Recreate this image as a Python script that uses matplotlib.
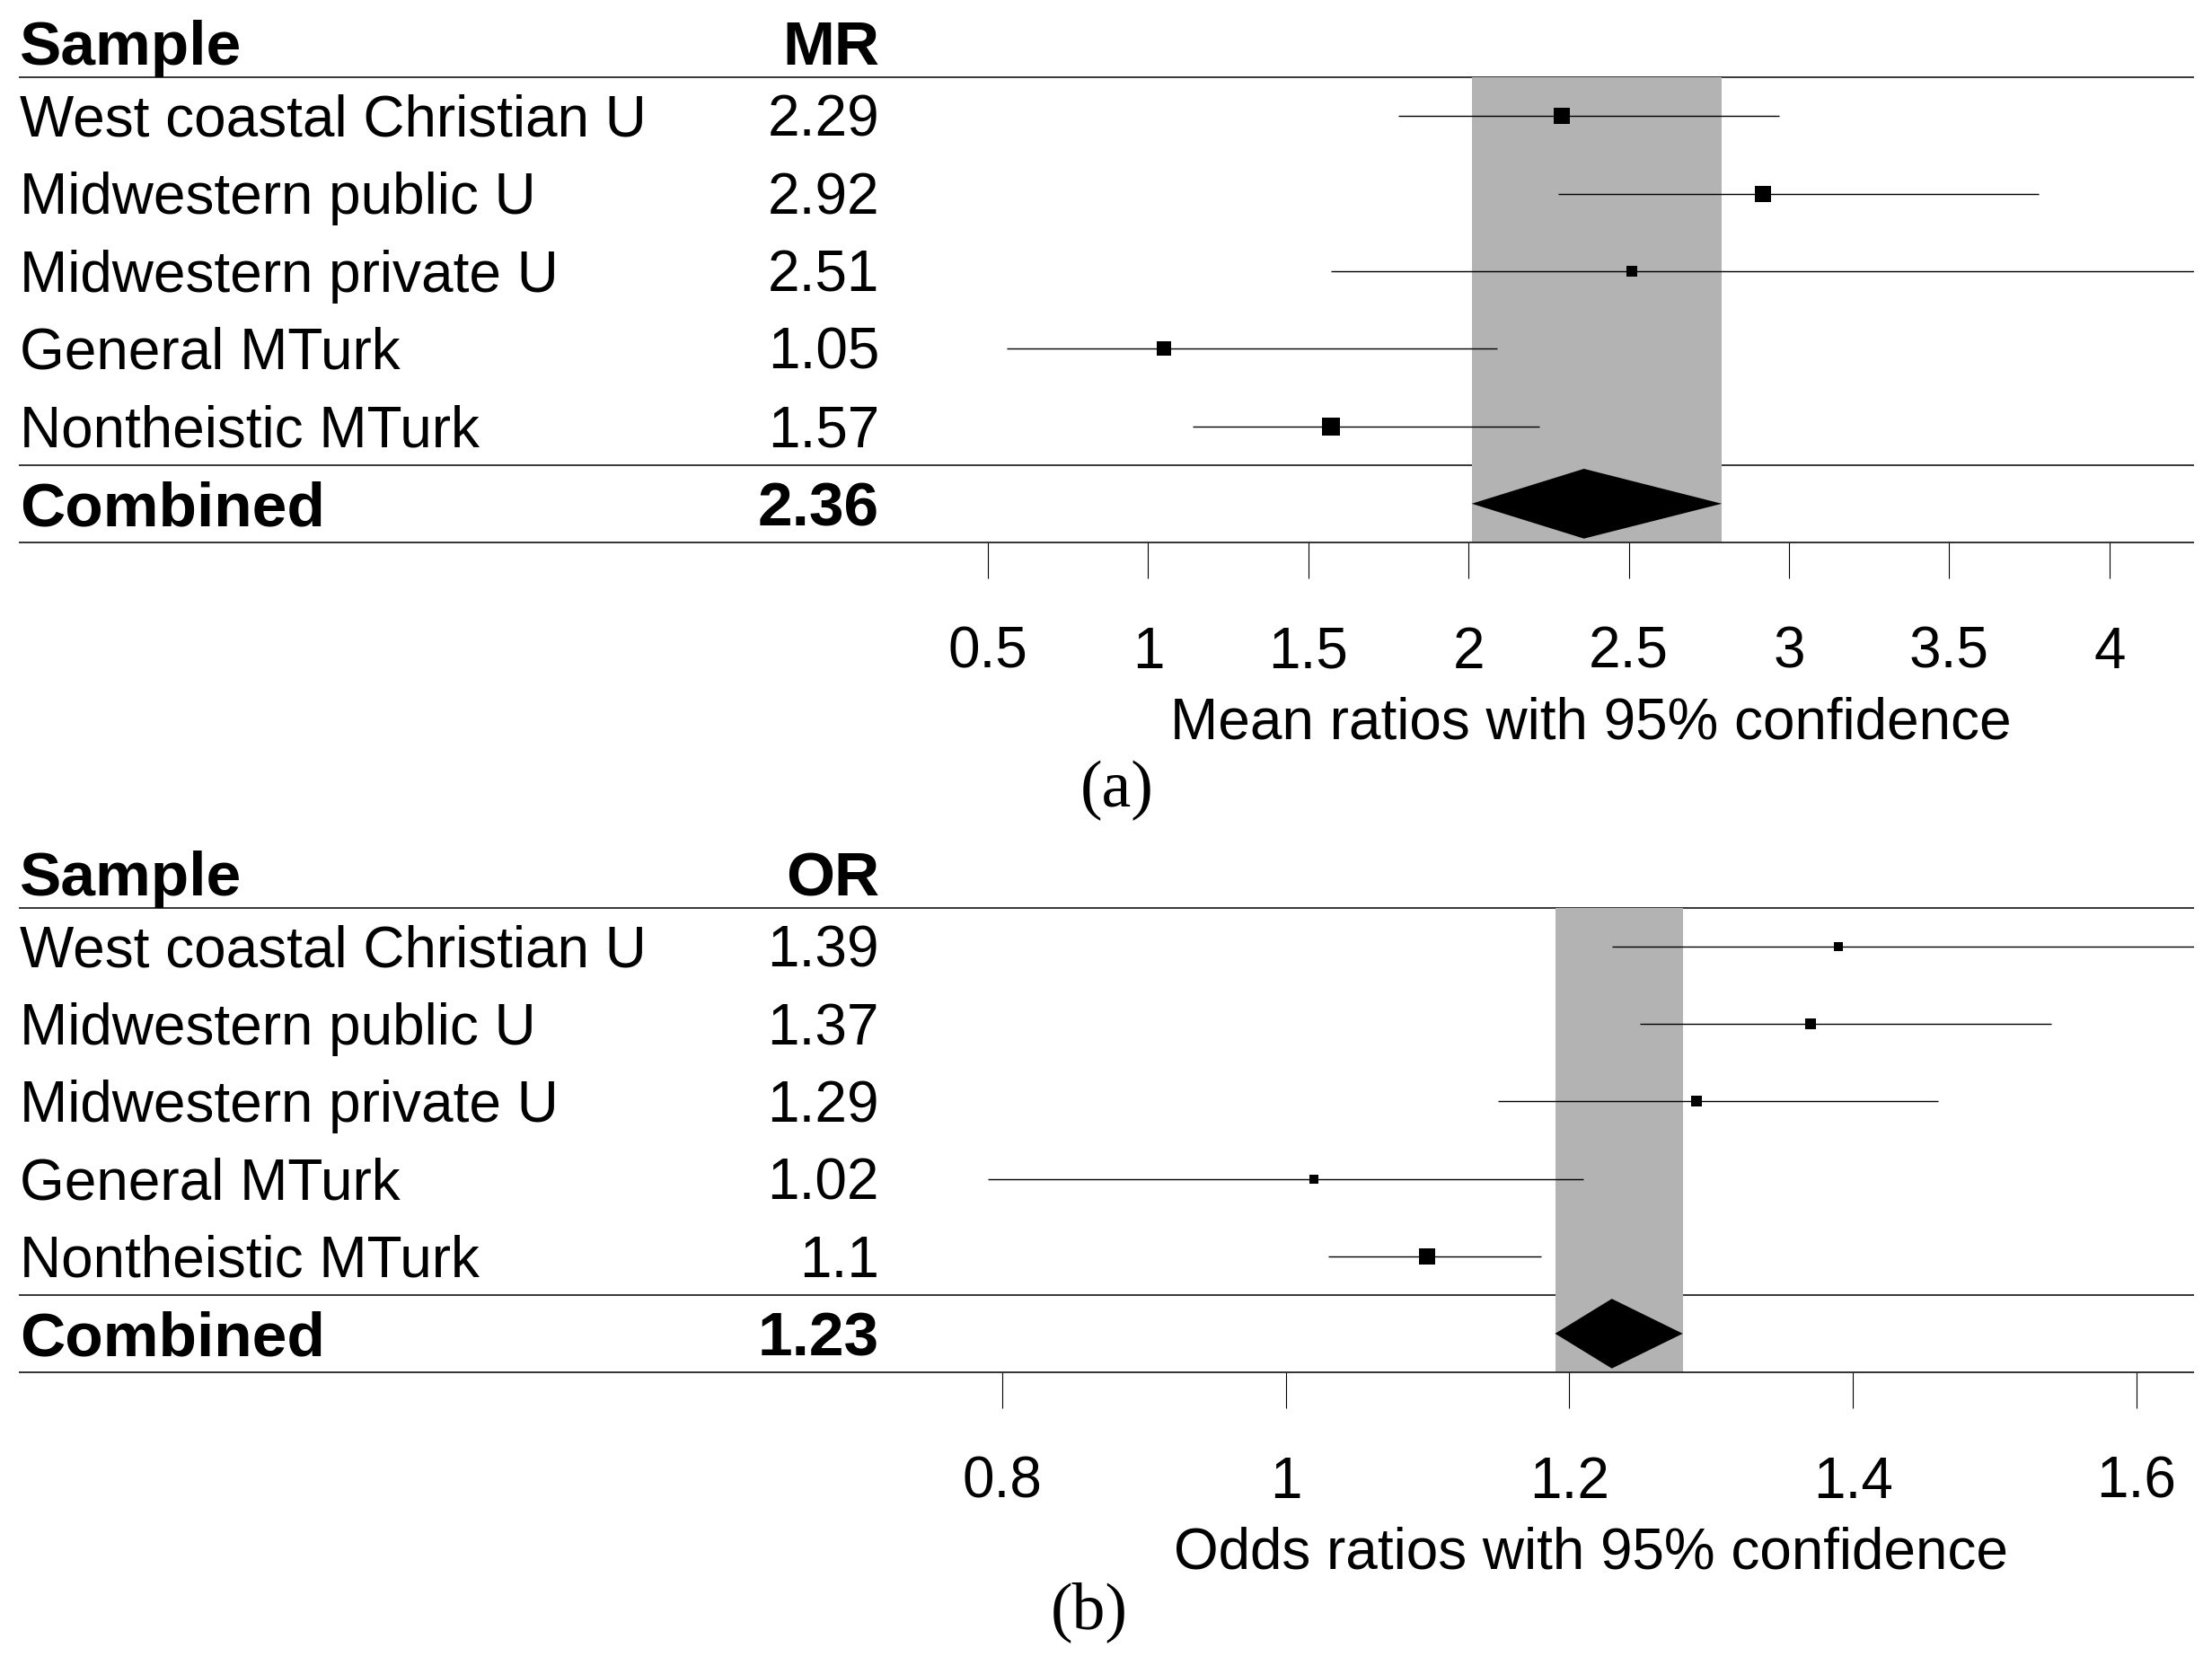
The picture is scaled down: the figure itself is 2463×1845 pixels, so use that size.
import matplotlib
matplotlib.use("Agg")
import matplotlib.pyplot as plt
from matplotlib import transforms
from matplotlib.patches import Polygon

# ---------------- data ----------------
samples = ["West coastal Christian U", "Midwestern public U", "Midwestern private U",
           "General MTurk", "Nontheistic MTurk"]
combined_label = "Combined"

mr_est = [2.29, 2.92, 2.51, 1.05, 1.57]
mr_lo = [1.78, 2.28, 1.57, 0.56, 1.14]
mr_hi = [2.97, 3.78, 4.50, 2.09, 2.22]
mr_text = ["2.29", "2.92", "2.51", "1.05", "1.57"]
mr_comb = [2.36, 2.01, 2.79]          # estimate, lower, upper
mr_comb_text = "2.36"
mr_weights = [18.6, 17.9, 11.5, 15.5, 20.6]
mr_ticks = [0.5, 1, 1.5, 2, 2.5, 3, 3.5, 4]
mr_ticklabels = ["0.5", "1", "1.5", "2", "2.5", "3", "3.5", "4"]

or_est = [1.39, 1.37, 1.29, 1.02, 1.10]
or_lo = [1.23, 1.25, 1.15, 0.79, 1.03]
or_hi = [1.70, 1.54, 1.46, 1.21, 1.18]
or_text = ["1.39", "1.37", "1.29", "1.02", "1.1"]
or_comb = [1.23, 1.19, 1.28]
or_comb_text = "1.23"
or_weights = [10.8, 12.5, 11.6, 10.4, 18.5]
or_ticks = [0.8, 1.0, 1.2, 1.4, 1.6]
or_ticklabels = ["0.8", "1", "1.2", "1.4", "1.6"]

# ---------------- layout ----------------
W, H = 2463, 1845
DPI = 100
PT = DPI / 72.0  # px per point
SANS = ["Liberation Sans", "DejaVu Sans"]
SERIF = ["Liberation Serif", "DejaVu Serif"]

fig = plt.figure(figsize=(W / DPI, H / DPI), dpi=DPI)
fig.patch.set_facecolor("white")

X_LEFT_TABLE = 22
X_VALUE_RIGHT = 979
X_AX_LEFT = 1100
X_RIGHT = 2443


def fx(px):
    return px / W


def fy(py):
    return 1 - py / H


def panel(top_px, bot_px, est, lo, hi, txt, comb, comb_txt, weights, xlim,
          ticks, ticklabels, header_val, xlabel, tag, tag_xy):
    ax = fig.add_axes([fx(X_AX_LEFT), fy(bot_px), (X_RIGHT - X_AX_LEFT) / W,
                       (bot_px - top_px) / H])
    n = len(est)
    ax.set_xlim(*xlim)
    ax.set_ylim(n + 0.5, -0.5)
    for s in ax.spines.values():
        s.set_visible(False)
    row_px = (bot_px - top_px) / (n + 1)

    blend = transforms.blended_transform_factory(ax.transAxes, ax.transData)
    x0 = (X_LEFT_TABLE - 1 - X_AX_LEFT) / (X_RIGHT - X_AX_LEFT)
    # rules (top and middle ones are hidden under the band)
    for yv in [-0.5, n - 0.5]:
        ax.plot([x0, 1], [yv, yv], transform=blend, color="black", lw=1.1,
                clip_on=False, zorder=1, solid_capstyle="butt")
    ax.plot([x0, 1], [n + 0.5, n + 0.5], transform=blend, color="#222222", lw=1.3,
            clip_on=False, zorder=5, solid_capstyle="butt")

    # combined band
    ax.axvspan(comb[1], comb[2], ymin=0, ymax=1, color="#b3b3b3", lw=0, zorder=2)

    # CIs and boxes
    for i in range(n):
        ax.plot([lo[i], hi[i]], [i, i], color="black", lw=1.0, zorder=3,
                solid_capstyle="butt")
        ax.plot([est[i]], [i], marker="s", ms=weights[i] / PT, mew=0,
                color="black", zorder=4)
    # diamond
    hh = 0.45
    dia = Polygon([[comb[1], n], [comb[0], n - hh], [comb[2], n], [comb[0], n + hh]],
                  closed=True, facecolor="black", edgecolor="none", zorder=4)
    ax.add_patch(dia)

    # ticks
    ax.set_yticks([])
    ax.set_xticks(ticks)
    ax.set_xticklabels(ticklabels, fontsize=46, family=SANS)
    ax.tick_params(axis="x", direction="out", length=40 / PT, width=0.8,
                   pad=38, colors="black")

    # table text
    tt = transforms.blended_transform_factory(fig.transFigure, ax.transData)
    reg_off = 22.8 / row_px
    bold_off = 24.9 / row_px
    ax.text(fx(X_LEFT_TABLE), -0.5 - (86 - 72) / row_px, "Sample", transform=tt,
            ha="left", va="baseline", fontsize=50, fontweight="bold", family=SANS,
            clip_on=False)
    ax.text(fx(X_VALUE_RIGHT), -0.5 - (86 - 72) / row_px, header_val, transform=tt,
            ha="right", va="baseline", fontsize=50, fontweight="bold", family=SANS,
            clip_on=False)
    for i in range(n):
        ax.text(fx(X_LEFT_TABLE), i + reg_off, samples[i], transform=tt, ha="left",
                va="baseline", fontsize=46, family=SANS, clip_on=False)
        ax.text(fx(X_VALUE_RIGHT), i + reg_off, txt[i], transform=tt, ha="right",
                va="baseline", fontsize=46, family=SANS, clip_on=False)
    ax.text(fx(X_LEFT_TABLE), n + bold_off, combined_label, transform=tt, ha="left",
            va="baseline", fontsize=50, fontweight="bold", family=SANS, clip_on=False)
    ax.text(fx(X_VALUE_RIGHT), n + bold_off, comb_txt, transform=tt, ha="right",
            va="baseline", fontsize=50, fontweight="bold", family=SANS, clip_on=False)

    # x label
    ax_h = bot_px - top_px
    ax.text(0.5, -(196 + 22.8) / ax_h, xlabel, transform=ax.transAxes, ha="center",
            va="baseline", fontsize=46, family=SANS)
    # panel tag
    fig.text(fx(tag_xy[0]), fy(tag_xy[1]), tag, ha="center", va="center",
             fontsize=53, family=SERIF)
    return ax


panel(86, 604, mr_est, mr_lo, mr_hi, mr_text, mr_comb, mr_comb_text, mr_weights,
      (0.5, 4.264), mr_ticks, mr_ticklabels, "MR",
      "Mean ratios with 95% confidence", "(a)", (1244, 880))
panel(1011, 1528, or_est, or_lo, or_hi, or_text, or_comb, or_comb_text, or_weights,
      (0.790, 1.6406), or_ticks, or_ticklabels, "OR",
      "Odds ratios with 95% confidence", "(b)", (1213, 1795))

fig.savefig("out.png", dpi=DPI, facecolor="white")
